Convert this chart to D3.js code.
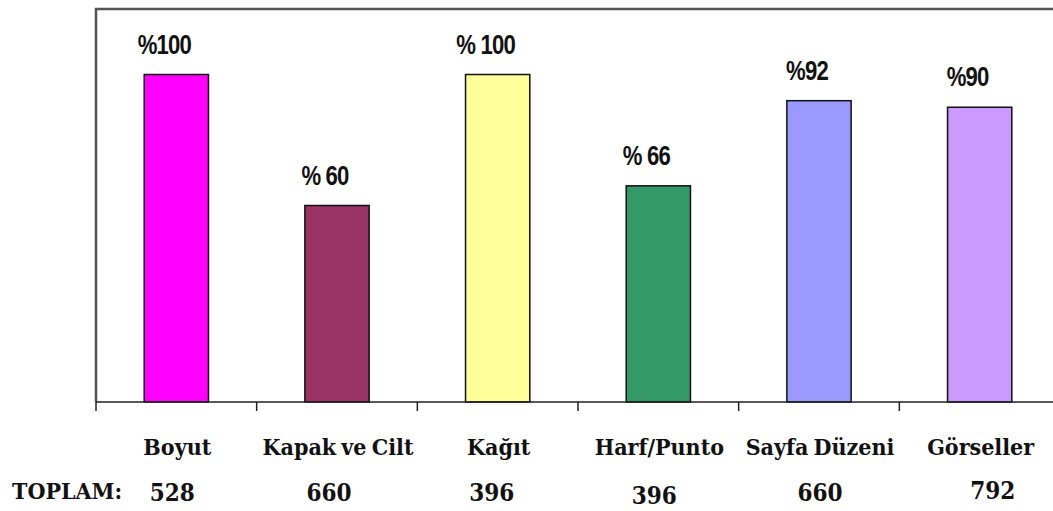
<!DOCTYPE html>
<html>
<head>
<meta charset="utf-8">
<script src="https://cdn.jsdelivr.net/npm/d3@7"></script>
<style>
  body { margin:0; background:#fff; }
  svg { display:block; }
</style>
</head>
<body>
<svg id="chart" width="1053" height="511"></svg>
<script>
// chart data
const categories = ["Boyut", "Kapak ve Cilt", "Kağıt", "Harf/Punto", "Sayfa Düzeni", "Görseller"]
const percents = [100, 60, 100, 66, 92, 90]
const pctLabels = ["%100", "% 60", "% 100", "% 66", "%92", "%90"]
const totals = [528, 660, 396, 396, 660, 792]
const colors = ["#FF00FF", "#993366", "#FFFF99", "#339966", "#9999FF", "#CC99FF"]

const svg = d3.select("#chart")
const plotL = 96, plotT = 9, plotB = 402, plotR = 1060

const x = d3.scaleBand().domain(categories).range([plotL, plotR]).paddingInner(0.6).paddingOuter(0.3)
const step = x.step()
const y = d3.scaleLinear().domain([0, 120]).range([plotB, plotT])
const mid = c => x(c) + x.bandwidth() / 2

// plot frame (right side falls outside the picture)
svg.append("path")
  .attr("d", `M${plotL},${plotB} V${plotT} H${plotR}`)
  .attr("fill", "none").attr("stroke", "#555").attr("stroke-width", 2.5)

// bars
svg.selectAll("rect.bar").data(percents).enter()
  .append("rect")
  .attr("class", "bar")
  .attr("x", (d, i) => x(categories[i]))
  .attr("y", d => y(d))
  .attr("width", x.bandwidth())
  .attr("height", d => plotB - y(d))
  .attr("fill", (d, i) => colors[i])
  .attr("stroke", "#111").attr("stroke-width", 1.5)

// x axis with ticks between categories
svg.append("line")
  .attr("x1", plotL).attr("x2", 1053).attr("y1", plotB).attr("y2", plotB)
  .attr("stroke", "#222").attr("stroke-width", 1.5)
svg.selectAll("line.tick").data(d3.range(categories.length + 1)).enter()
  .append("line")
  .attr("class", "tick")
  .attr("x1", i => plotL + i * step).attr("x2", i => plotL + i * step)
  .attr("y1", plotB).attr("y2", plotB + 9)
  .attr("stroke", "#222").attr("stroke-width", 1.5)

// percent labels over bars (narrow bold sans)
svg.selectAll("text.pct").data(percents).enter()
  .append("text")
  .attr("class", "pct")
  .attr("transform", (d, i) => `translate(${mid(categories[i]) - 12},${y(d) - 21}) scale(0.82,1)`)
  .attr("text-anchor", "middle")
  .attr("font-family", "Liberation Sans, Arial, sans-serif")
  .attr("font-weight", "bold")
  .attr("font-size", 27)
  .attr("letter-spacing", -1)
  .attr("fill", "#111")
  .text((d, i) => pctLabels[i])

const serif = "DejaVu Serif Condensed, DejaVu Serif, serif"

// category names
svg.selectAll("text.cat").data(categories).enter()
  .append("text")
  .attr("class", "cat")
  .attr("x", d => mid(d) + 1)
  .attr("y", 455)
  .attr("text-anchor", "middle")
  .attr("font-family", serif)
  .attr("font-weight", "bold")
  .attr("font-size", 23)
  .attr("word-spacing", -2)
  .attr("fill", "#111")
  .text(d => d)

// totals row
svg.append("text")
  .attr("x", 12).attr("y", 499)
  .attr("font-family", serif).attr("font-weight", "bold").attr("font-size", 23)
  .attr("fill", "#111")
  .text("TOPLAM:")

const totalShift = [-4, -8, -6, -4, 1, 13]
const totalDy = [0, 0, 0, 3, 0, -2]
svg.selectAll("text.tot").data(totals).enter()
  .append("text")
  .attr("class", "tot")
  .attr("x", (d, i) => mid(categories[i]) + totalShift[i])
  .attr("y", (d, i) => 501 + totalDy[i])
  .attr("text-anchor", "middle")
  .attr("font-family", serif)
  .attr("font-weight", "bold")
  .attr("font-size", 24)
  .attr("fill", "#111")
  .text(d => d)
</script>
</body>
</html>
